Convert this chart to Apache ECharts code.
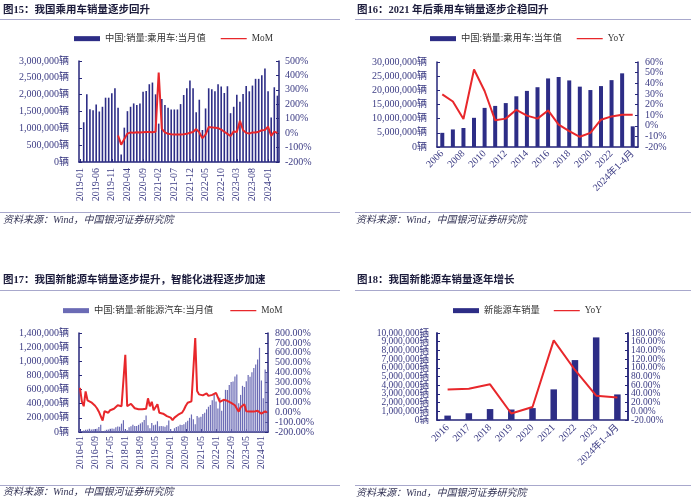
<!DOCTYPE html>
<html><head><meta charset="utf-8">
<script src="https://cdn.jsdelivr.net/npm/echarts@6/dist/echarts.min.js"></script>
<style>html,body{margin:0;padding:0;background:#fff;}#c{width:691px;height:500px;}</style>
</head><body><div id="c"></div>
<script>
// ---------- DATA ----------
function months(y0, m0, n) { const a = []; for (let k = 0; k < n; k++) { const y = y0 + Math.floor((m0 - 1 + k) / 12), m = (m0 - 1 + k) % 12 + 1; a.push(y + '-' + (m < 10 ? '0' : '') + m); } return a; }

// Fig 15
const CAT15 = months(2019, 1, 64);
const BAR15 = [null,1180000,2010000,1570000,1540000,1710000,1500000,1640000,1910000,1910000,2040000,2190000,
  1610000,220000,1020000,1510000,1640000,1740000,1690000,1740000,2090000,2110000,2310000,2360000,
  2010000,1140000,1870000,1690000,1610000,1560000,1560000,1560000,1720000,1990000,2190000,2420000,
  2190000,1480000,1850000,950000,1590000,2190000,2160000,2100000,2310000,2240000,2050000,2250000,
  1450000,1640000,2000000,1790000,2020000,2260000,2100000,2270000,2470000,2470000,2580000,2780000,
  2100000,1320000,2220000,1970000];
const MOM15 = [null,null,null,null,null,null,null,null,null,null,null,null,
  -16,-80,-40,-3,5,3,6,5,7,8,8,6,
  10,420,30,5,-5,-8,-10,-10,-10,-8,-5,3,
  8,28,5,-35,-10,42,40,38,35,25,10,-5,
  -20,12,8,86,20,2,-3,5,5,10,20,22,
  45,-20,10,2];

// Fig 16
const CAT16 = ['2006','2007','2008','2009','2010','2011','2012','2013','2014','2015','2016','2017','2018','2019','2020','2021','2022','2023','2024年1-4月'];
const BAR16 = [5000000,6200000,6700000,10300000,13800000,14500000,15500000,17900000,19800000,21100000,24200000,24700000,23500000,21300000,20100000,21500000,23600000,26000000,7300000];
const YOY16 = [29.6,22.8,6.4,52.9,32.7,5.1,6.7,15.0,9.5,6.7,14.4,1.1,-5.1,-10.4,-6.7,5.7,8.8,10.4,10.4];

// Fig 17
const CAT17 = months(2016, 1, 100);
const BAR17 = [16600,11000,22300,31600,33900,44700,35900,40000,43000,47600,72000,104000,
  5700,17700,31500,33800,45500,49000,47000,68000,78000,73000,118000,167000,
  38000,24500,68000,82000,102000,84000,84000,101000,121000,138000,170000,235000,
  96000,53000,126000,97000,104000,152000,80000,85000,80000,75000,95000,163000,
  44000,13000,53000,72000,82000,104000,98000,109000,138000,160000,200000,248000,
  179000,110000,226000,206000,217000,256000,271000,321000,357000,383000,450000,531000,
  431000,334000,484000,299000,447000,596000,593000,666000,708000,714000,786000,814000,
  408000,525000,653000,636000,717000,806000,780000,846000,904000,956000,1026000,1191000,
  729000,477000,883000,850000];
const MOM17 = [245,110,60,210,120,115,100,90,65,40,5,20,
  -85,10,0,-5,20,10,35,55,70,90,60,55,
  580,60,80,85,90,40,30,30,30,30,20,35,
  140,60,105,20,5,80,-5,15,-15,-35,-40,-45,
  -55,-80,-55,-50,-25,-25,-5,25,65,95,80,110,
  130,750,215,180,165,170,180,190,165,170,175,185,
  195,150,105,115,125,120,115,105,95,85,70,55,
  5,50,55,80,10,8,7,8,6,8,15,30,
  -15,5,8,-3];

// Fig 18
const CAT18 = ['2016','2017','2018','2019','2020','2021','2022','2023','2024年1-4月'];
const BAR18 = [507000,777000,1256000,1206000,1367000,3521000,6887000,9495000,2940000];
const YOY18 = [50,52,62,-5,10,163,95,36,32];

const TITLES = ['图15：我国乘用车销量逐步回升','图16：2021 年后乘用车销量逐步企稳回升','图17：我国新能源车销量逐步提升，智能化进程逐步加速','图18：我国新能源车销量逐年增长'];
const SOURCE = '资料来源：Wind，中国银河证券研究院';
const NAMES = ['中国:销量:乘用车:当月值','中国:销量:乘用车:当年值','中国:销量:新能源汽车:当月值','新能源车销量'];

// ---------- STYLE ----------
const FONT = '"Liberation Serif","Noto Sans CJK SC",serif';
const AX = '#26267a', LBL = '#3c3c84', RED = '#e8272b', NAVY = '#2d2d86', LAV = '#6b6bb5', RULE = '#a8a8cc';
const fmtN = v => v.toLocaleString('en-US') + '辆';
const fmtP2 = v => v.toFixed(2) + '%';
const LINE_ICON = 'path://M0,0L0.01,0Z M0,1.9L26,1.9L26,3.1L0,3.1Z M0,5L0.01,5Z';

function xAx(gi, data, rot, interval, margin) {
  return { type: 'category', gridIndex: gi, data: data, boundaryGap: true,
    axisLine: { lineStyle: { color: AX, width: 1.5 } },
    axisTick: { show: true, inside: true, length: 3, interval: interval, alignWithLabel: true, lineStyle: { color: AX } },
    axisLabel: { interval: interval, rotate: rot, margin: margin, fontSize: 10, fontFamily: FONT, color: LBL } };
}
function yAx(gi, pos, min, max, itv, fmt, margin, fs, showEnds) {
  const ends = showEnds === undefined ? true : showEnds;
  return { type: 'value', gridIndex: gi, position: pos, min: min, max: max, interval: itv,
    axisLine: { show: true, lineStyle: { color: AX, width: 1.5 } },
    axisTick: { show: true, inside: true, length: 3, lineStyle: { color: AX } },
    splitLine: { show: false },
    axisLabel: { formatter: fmt, margin: margin, fontSize: fs || 10, fontFamily: FONT, color: LBL,
      showMinLabel: ends, showMaxLabel: ends, hideOverlap: false } };
}
function legend(left, top, name, lineName, gap) {
  return { left: left, top: top, padding: 0, itemWidth: 26, itemHeight: 5, itemGap: gap, selectedMode: false,
    textStyle: { fontSize: 9.3, fontFamily: FONT, color: '#333' },
    data: [{ name: name, icon: 'rect' }, { name: lineName, icon: LINE_ICON }] };
}
function txt(x, y, s, font, fill) { return { type: 'text', x: x, y: y, style: { text: s, font: font, fill: fill, verticalAlign: 'middle' } }; }
function rule(x1, x2, y) { return { type: 'line', shape: { x1: x1, y1: y, x2: x2, y2: y }, style: { stroke: RULE, lineWidth: 1 } }; }

const TF = 'bold 10.5px ' + FONT, SF = 'italic 10px ' + FONT;

const option = {
  backgroundColor: '#fff',
  animation: false,
  graphic: [
    txt(3, 10, TITLES[0], TF, '#1c1c3c'), rule(0, 340, 19.5), rule(0, 340, 212.5), txt(3, 220, SOURCE, SF, '#333355'),
    txt(357, 10, TITLES[1], TF, '#1c1c3c'), rule(355, 691, 19.5), rule(355, 691, 212.5), txt(356, 220, SOURCE, SF, '#333355'),
    txt(3, 280, TITLES[2], TF, '#1c1c3c'), rule(0, 340, 290.5), rule(0, 340, 485.5), txt(3, 492, SOURCE, SF, '#333355'),
    txt(357, 280, TITLES[3], TF, '#1c1c3c'), rule(355, 691, 290.5), rule(355, 691, 485.5), txt(356, 493, SOURCE, SF, '#333355')
  ],
  legend: [legend(74, 34, NAMES[0], 'MoM', 15), legend(430, 34, NAMES[1], 'YoY', 15), legend(63, 306, NAMES[2], 'MoM', 17), legend(453, 306, NAMES[3], 'YoY', 14)],
  grid: [
    { left: 79, top: 61, width: 200, height: 101 },
    { left: 437, top: 62, width: 201, height: 85 },
    { left: 79, top: 333, width: 189, height: 99 },
    { left: 437, top: 333, width: 191, height: 87 }
  ],
  xAxis: [
    xAx(0, CAT15, 90, 4, 6),
    xAx(1, CAT16, 45, 1, 5),
    xAx(2, CAT17, 90, 7, 4),
    xAx(3, CAT18, 45, 0, 6)
  ],
  yAxis: [
    yAx(0, 'left', 0, 3000000, 500000, fmtN, 10),
    yAx(0, 'right', -200, 500, 100, v => v + '%', 6),
    yAx(1, 'left', 0, 30000000, 5000000, fmtN, 10),
    yAx(1, 'right', -20, 60, 10, v => v + '%', 7),
    yAx(2, 'left', 0, 1400000, 200000, fmtN, 10),
    yAx(2, 'right', -200, 800, 100, fmtP2, 7),
    // Fig 18: labels are tightly packed; split into two interleaved axes so none get hidden
    yAx(3, 'left', 0, 10000000, 2000000, fmtN, 8, 9.5),
    yAx(3, 'right', -20, 180, 40, fmtP2, 3, 9.5),
    yAx(3, 'left', 0, 10000000, 1000000, v => (Math.round(v / 1000000) % 2 === 1 ? fmtN(v) : ''), 8, 9.5, false),
    yAx(3, 'right', -20, 180, 20, v => (v % 40 === 0 ? fmtP2(v) : ''), 3, 9.5, false)
  ],
  series: [
    { name: NAMES[0], type: 'bar', xAxisIndex: 0, yAxisIndex: 0, data: BAR15, barWidth: 1.6, itemStyle: { color: NAVY } },
    { name: 'MoM', type: 'line', xAxisIndex: 0, yAxisIndex: 1, data: MOM15, symbol: 'none', connectNulls: false, lineStyle: { color: RED, width: 2 }, itemStyle: { color: RED }, z: 3 },
    { name: NAMES[1], type: 'bar', xAxisIndex: 1, yAxisIndex: 2, data: BAR16, barWidth: 4, itemStyle: { color: NAVY } },
    { name: 'YoY', type: 'line', xAxisIndex: 1, yAxisIndex: 3, data: YOY16, symbol: 'none', lineStyle: { color: RED, width: 2 }, itemStyle: { color: RED }, z: 3 },
    { name: NAMES[2], type: 'bar', xAxisIndex: 2, yAxisIndex: 4, data: BAR17, barWidth: 1.2, itemStyle: { color: LAV } },
    { name: 'MoM', type: 'line', xAxisIndex: 2, yAxisIndex: 5, data: MOM17, symbol: 'none', lineStyle: { color: RED, width: 2 }, itemStyle: { color: RED }, z: 3 },
    { name: NAMES[3], type: 'bar', xAxisIndex: 3, yAxisIndex: 6, data: BAR18, barWidth: 6.5, itemStyle: { color: NAVY } },
    { name: 'YoY', type: 'line', xAxisIndex: 3, yAxisIndex: 7, data: YOY18, symbol: 'none', lineStyle: { color: RED, width: 2 }, itemStyle: { color: RED }, z: 3 }
  ]
};
const chart = echarts.init(document.getElementById('c'), null, { renderer: 'canvas' });
chart.setOption(option);
</script>
</body></html>
